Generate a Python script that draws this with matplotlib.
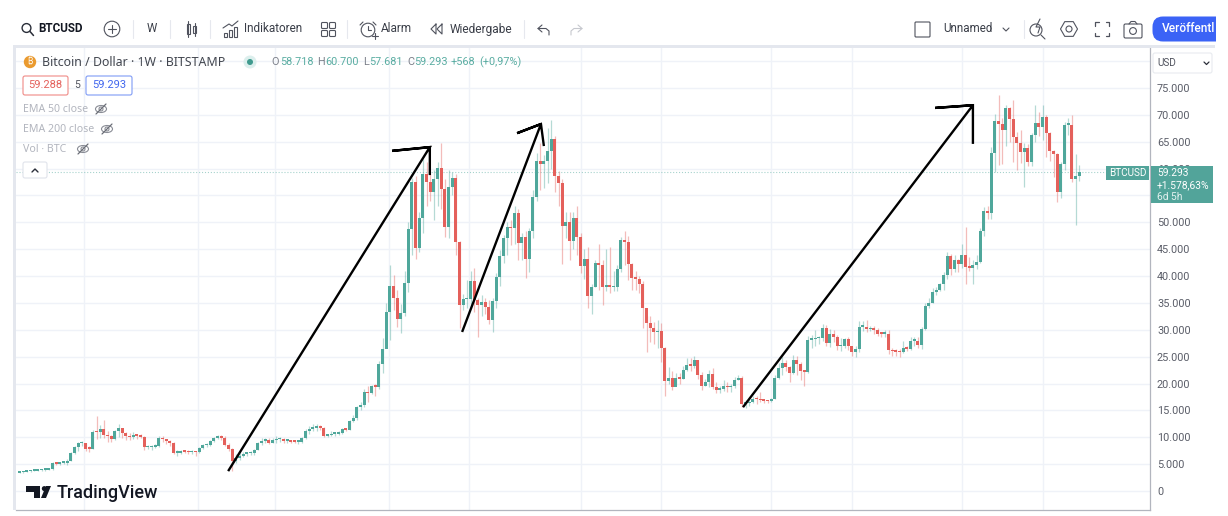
import numpy as np
import matplotlib
matplotlib.use("Agg")
import matplotlib.pyplot as plt
from matplotlib.patches import Circle, Rectangle, FancyBboxPatch, Polygon, Ellipse
from matplotlib.ticker import FuncFormatter

plt.rcParams['font.family'] = ['Roboto', 'DejaVu Sans']

W, H = 1228, 516

# weekly candles, in thousand USD
first_open = 3.4
closes = [
    3.5, 3.6, 3.7, 3.8, 3.8, 3.85, 3.95, 4.0, 4.05, 5.3,
    5.1, 5.2, 5.2, 5.6, 7.1, 8.1, 8.9, 8.9, 7.9, 7.8,
    11.0, 10.9, 11.6, 10.4, 10.2, 9.6, 11.2, 11.7, 10.8, 10.2,
    10.0, 10.4, 10.3, 10.1, 8.1, 8.1, 8.2, 8.3, 9.8, 9.6,
    9.3, 9.0, 7.1, 7.1, 7.4, 7.3, 7.2, 7.3, 7.2, 8.0,
    8.5, 8.6, 9.3, 9.9, 10.1, 9.9, 8.6, 7.9, 5.5, 6.1,
    6.6, 6.9, 7.0, 7.1, 7.7, 8.9, 9.3, 9.5, 8.9, 9.4,
    9.6, 9.6, 9.3, 9.3, 9.2, 9.1, 9.2, 9.9, 11.2, 11.6,
    11.8, 11.9, 11.8, 10.3, 10.4, 10.7, 10.7, 10.8, 11.5, 11.4,
    13.1, 13.6, 15.7, 16.0, 18.5, 18.2, 19.5, 19.4, 23.6, 26.4,
    33.3, 38.2, 35.9, 32.1, 33.2, 38.8, 48.7, 57.6, 45.3, 50.9,
    59.0, 57.5, 55.7, 58.1, 60.1, 56.3, 49.2, 56.6, 58.2, 46.4,
    34.7, 35.7, 35.8, 39.1, 35.5, 34.7, 35.2, 34.3, 31.8, 35.4,
    39.8, 43.8, 47.0, 49.2, 48.9, 51.8, 46.1, 47.2, 43.1, 48.3,
    54.7, 61.5, 60.9, 61.5, 63.2, 65.5, 58.6, 57.3, 49.3, 50.1,
    46.6, 50.8, 47.3, 41.9, 43.2, 36.3, 37.9, 42.4, 42.1, 37.9,
    38.3, 37.9, 38.0, 41.3, 46.8, 46.4, 42.2, 39.6, 39.5, 38.5,
    34.0, 31.3, 30.4, 29.5, 29.8, 26.6, 20.5, 21.1, 19.3, 21.0,
    20.9, 22.6, 23.4, 23.3, 24.3, 21.5, 19.6, 20.2, 21.8, 19.4,
    18.8, 18.9, 19.5, 19.3, 19.5, 20.7, 21.0, 16.2, 16.3, 16.5,
    17.2, 17.1, 16.9, 16.8, 16.7, 17.2, 21.0, 22.8, 23.8, 23.0,
    21.9, 24.3, 23.6, 22.4, 22.2, 28.1, 28.2, 28.4, 28.5, 30.3,
    27.6, 29.2, 28.6, 26.9, 27.0, 28.2, 26.9, 25.9, 26.4, 30.6,
    30.6, 30.1, 30.1, 30.0, 29.3, 29.2, 29.3, 26.2, 26.0, 25.9,
    25.8, 26.6, 26.5, 28.0, 28.0, 27.2, 30.1, 34.5, 35.0, 37.1,
    37.4, 38.5, 40.2, 43.8, 41.4, 43.0, 42.2, 43.9, 41.6, 41.5,
    42.1, 42.6, 48.3, 52.2, 51.8, 63.0, 68.9, 68.3, 67.1, 71.2,
    69.2, 65.8, 64.8, 63.1, 63.9, 61.3, 66.3, 68.4, 67.8, 69.7,
    66.6, 63.2, 62.7, 55.7, 60.9, 68.1, 68.2, 58.1, 58.7, 59.3,
]
highs = [
    3.6, 3.7, 3.9, 3.9, 3.9, 4.0, 4.1, 4.1, 4.2, 5.4,
    5.4, 5.4, 5.5, 5.9, 7.3, 8.3, 9.1, 9.3, 9.0, 8.4,
    11.4, 14.0, 12.3, 13.2, 11.2, 10.5, 11.4, 12.4, 11.8, 10.9,
    10.8, 10.9, 10.7, 10.6, 10.3, 8.6, 8.6, 8.8, 10.3, 10.2,
    9.6, 9.4, 9.2, 7.6, 7.7, 7.7, 7.6, 7.7, 7.5, 8.2,
    8.8, 9.0, 9.4, 10.1, 10.4, 10.4, 10.2, 8.9, 8.0, 6.9,
    7.0, 7.2, 7.3, 7.5, 7.8, 9.1, 9.9, 9.9, 9.8, 9.9,
    10.3, 10.0, 9.8, 9.6, 9.5, 9.4, 9.4, 10.1, 11.5, 12.1,
    12.4, 12.5, 12.2, 12.0, 10.7, 11.1, 11.0, 11.2, 11.7, 11.8,
    13.3, 14.1, 15.9, 16.6, 18.9, 19.5, 19.8, 19.9, 24.2, 28.4,
    35.0, 42.0, 40.2, 37.5, 34.8, 41.0, 50.0, 58.3, 58.6, 52.0,
    61.7, 61.3, 59.0, 59.8, 61.3, 64.8, 58.0, 59.8, 59.4, 59.0,
    46.5, 36.7, 39.3, 41.0, 41.5, 36.0, 36.5, 36.0, 35.6, 36.0,
    40.6, 44.9, 47.6, 50.0, 50.5, 53.0, 52.5, 48.0, 48.3, 49.0,
    56.0, 62.9, 64.8, 62.5, 67.5, 69.0, 66.0, 59.5, 58.0, 51.9,
    51.9, 52.0, 53.0, 48.0, 45.0, 45.5, 38.5, 42.9, 45.9, 43.0,
    45.0, 45.4, 41.0, 42.0, 47.3, 48.3, 47.5, 42.5, 41.0, 40.1,
    39.0, 32.5, 32.5, 31.5, 31.8, 31.2, 26.8, 23.0, 22.3, 22.0,
    22.0, 23.2, 24.8, 24.7, 25.1, 24.4, 22.2, 20.8, 22.5, 22.9,
    20.2, 19.6, 20.6, 20.2, 19.9, 21.2, 21.6, 21.4, 16.9, 17.0,
    17.6, 17.6, 18.5, 17.0, 16.9, 17.4, 21.6, 23.9, 25.0, 24.3,
    23.3, 25.3, 25.1, 24.0, 22.6, 28.8, 29.0, 30.0, 28.9, 31.1,
    30.9, 30.2, 30.0, 29.1, 28.5, 28.5, 28.7, 26.8, 27.0, 31.7,
    31.6, 31.8, 30.8, 30.7, 30.3, 29.6, 30.0, 29.9, 26.6, 26.4,
    26.4, 27.9, 27.0, 28.7, 28.6, 28.7, 30.6, 35.0, 35.9, 37.7,
    38.0, 38.8, 40.7, 44.5, 44.2, 43.9, 43.2, 46.0, 49.1, 43.5,
    43.0, 43.9, 48.9, 52.9, 53.0, 64.1, 70.2, 73.7, 69.5, 71.8,
    71.5, 72.7, 66.9, 67.2, 64.7, 64.5, 66.7, 71.8, 70.6, 71.8,
    70.0, 66.8, 63.5, 62.9, 61.2, 68.6, 69.4, 70.0, 62.8, 60.7,
]
lows = [
    3.3, 3.4, 3.5, 3.6, 3.65, 3.7, 3.75, 3.8, 3.9, 4.0,
    4.8, 4.9, 5.0, 4.9, 5.5, 6.8, 7.5, 8.4, 7.4, 7.3,
    7.8, 9.6, 9.8, 9.9, 9.2, 9.1, 9.4, 10.1, 9.9, 9.5,
    9.4, 9.7, 9.6, 9.8, 7.7, 7.8, 7.7, 8.0, 8.2, 9.1,
    8.8, 8.4, 6.9, 6.5, 6.9, 7.0, 6.9, 6.8, 6.6, 7.0,
    7.9, 8.2, 8.4, 9.1, 9.6, 9.5, 8.4, 7.5, 3.8, 5.2,
    5.7, 6.4, 6.5, 6.7, 6.7, 7.6, 8.6, 8.9, 8.7, 8.9,
    9.0, 9.1, 9.0, 9.0, 8.9, 8.9, 8.8, 9.0, 9.7, 10.7,
    11.2, 11.2, 11.4, 10.0, 10.0, 10.2, 10.3, 10.4, 10.6, 11.1,
    11.3, 12.9, 13.3, 15.0, 15.7, 16.6, 18.1, 17.6, 19.0, 21.9,
    28.0, 28.1, 33.6, 30.6, 29.4, 32.5, 37.0, 44.0, 43.2, 44.5,
    48.0, 53.0, 54.0, 50.5, 53.0, 52.4, 47.3, 47.0, 55.0, 44.0,
    30.3, 33.7, 34.0, 34.0, 33.4, 28.7, 32.5, 33.0, 31.0, 29.5,
    34.0, 38.2, 42.5, 44.0, 45.8, 46.0, 43.0, 43.0, 39.7, 40.8,
    47.0, 53.9, 56.0, 56.4, 57.4, 60.0, 55.7, 53.0, 42.2, 47.0,
    43.0, 45.0, 44.0, 40.6, 39.5, 34.1, 32.9, 37.9, 37.5, 34.6,
    37.2, 36.8, 37.3, 37.3, 40.8, 42.0, 39.3, 37.5, 37.5, 36.8,
    30.3, 25.8, 27.8, 27.3, 26.7, 24.0, 17.7, 20.0, 18.8, 19.7,
    20.0, 20.8, 22.4, 22.3, 22.8, 20.9, 18.8, 19.5, 19.3, 19.0,
    18.2, 18.3, 18.6, 18.5, 18.5, 19.2, 20.6, 15.6, 15.5, 15.9,
    16.3, 16.2, 16.6, 16.4, 16.4, 16.5, 17.1, 20.8, 21.5, 22.4,
    20.3, 21.8, 21.6, 20.7, 19.6, 22.0, 26.7, 27.0, 27.3, 28.0,
    27.0, 26.8, 27.8, 26.3, 26.0, 26.7, 26.3, 25.2, 24.9, 25.8,
    29.8, 29.5, 29.7, 29.3, 28.9, 28.7, 28.7, 25.5, 25.2, 25.2,
    25.0, 25.6, 26.0, 26.3, 26.9, 26.6, 26.4, 30.0, 34.0, 34.9,
    36.5, 37.2, 37.4, 39.5, 40.2, 40.8, 40.8, 41.5, 38.5, 41.0,
    38.6, 41.4, 42.5, 47.5, 50.6, 50.7, 59.4, 60.7, 60.9, 64.3,
    65.0, 61.3, 59.7, 61.0, 56.6, 60.4, 60.5, 65.0, 66.0, 65.3,
    62.2, 61.5, 58.5, 53.7, 54.5, 59.7, 66.3, 57.5, 49.5, 57.7,
]

price_ticks = [0, 5, 10, 15, 20, 25, 30, 35, 40, 45, 50, 55, 60, 65, 70, 75, 80]
time_grid = [17.6, 48.7, 69.7, 100.8, 122.6, 153.1, 175.0, 205.0, 227.0, 257.0, 279.0]
last_price = 59.293

# hand drawn arrows, (week, price)
arrows = [
    [(56.9, 3.7), (111.9, 64.0), (101.6, 63.3), (111.9, 64.0), (111.9, 58.8)],
    [(120.7, 29.6), (142.2, 68.3), (135.7, 66.6), (142.2, 68.3), (143.0, 64.2)],
    [(197.3, 15.6), (260.0, 71.8), (249.7, 71.3), (260.0, 71.8), (260.0, 64.6)],
]

UP = '#4fa79b'
DOWN = '#e4605b'
GRID = '#eff2f8'
BORDER = '#e4e7ee'
TXT = '#3a3e48'
TEAL_TXT = '#5aada2'

fig = plt.figure(figsize=(W / 100, H / 100), dpi=100, facecolor='white')

# chart area, px 16..1150 / 48..510
ax = fig.add_axes([16 / W, (H - 510) / H, (1150 - 16) / W, (510 - 48) / H])
px_per_week = 3.667
px_per_k = 5.373
week0_px = 19.5
ax.set_xlim((16 - week0_px) / px_per_week, (1150 - week0_px) / px_per_week)
ax.set_ylim((491 - 510) / px_per_k, (491 - 48) / px_per_k)

weeks = np.arange(len(closes))
closes_a = np.array(closes)
opens_a = np.concatenate([[first_open], closes_a[:-1]])
colors = [UP if c >= o else DOWN for o, c in zip(opens_a, closes_a)]

ax.vlines(weeks, lows, highs, colors=colors, linewidth=0.9, alpha=0.42, zorder=2)
body = np.abs(closes_a - opens_a)
body = np.where(body < 0.3, 0.3, body)
ax.bar(weeks, body, bottom=np.minimum(opens_a, closes_a), width=0.82, color=colors, linewidth=0, zorder=3)

ax.axhline(last_price, color=UP, linestyle=':', linewidth=0.8, alpha=0.5, zorder=1)

for pts in arrows:
    xs, ys = zip(*pts)
    ax.plot(xs, ys, color='black', linewidth=1.7, solid_joinstyle='miter', solid_capstyle='butt', zorder=5)

ax.set_xticks(time_grid)
ax.set_yticks(price_ticks)
ax.grid(True, color=GRID, linewidth=1.0, zorder=0)
ax.set_axisbelow(True)
ax.xaxis.set_ticklabels([])
ax.yaxis.tick_right()
ax.yaxis.set_major_formatter(FuncFormatter(
    lambda v, p: '' if v >= 80 else ('0' if v == 0 else f'{v * 1000:,.0f}'.replace(',', '.'))))
ax.tick_params(axis='both', length=0)
ax.tick_params(axis='y', labelsize=7.8, labelcolor='#5a5d68', pad=5)
for side in ['top', 'left']:
    ax.spines[side].set_visible(False)
ax.spines['right'].set_color('#b2b5be')
ax.spines['right'].set_linewidth(0.9)
ax.spines['bottom'].set_color('#b2b5be')
ax.spines['bottom'].set_linewidth(0.9)

# everything else is interface chrome, drawn in pixel coordinates
ov = fig.add_axes([0, 0, 1, 1], zorder=10)
ov.set_xlim(0, W)
ov.set_ylim(H, 0)
ov.axis('off')
ov.patch.set_alpha(0)


def label(x, y, s, size=8.2, color=TXT, ha='left', weight='normal', family=None):
    ov.text(x, y, s, fontsize=size, color=color, ha=ha, va='center', fontweight=weight, family=family)


def line(xs, ys, color='#50535e', lw=0.8):
    ov.plot(xs, ys, color=color, linewidth=lw, solid_capstyle='round')


def rect(x, y, w, h, ec='#50535e', fc='none', lw=0.8):
    ov.add_patch(Rectangle((x, y), w, h, edgecolor=ec, facecolor=fc, linewidth=lw))


def rbox(x, y, w, h, ec, fc='white', lw=0.8, r=2):
    ov.add_patch(FancyBboxPatch((x + r, y + r), w - 2 * r, h - 2 * r, boxstyle=f'round,pad={r}',
                                edgecolor=ec, facecolor=fc, linewidth=lw))


def eye(x, y):
    ov.add_patch(Ellipse((x, y), 11, 7, edgecolor='#8a8d96', facecolor='none', linewidth=0.8))
    ov.add_patch(Circle((x, y), 2, edgecolor='#8a8d96', facecolor='none', linewidth=0.8))
    line([x - 5, x + 5], [y + 5, y - 5], color='#6a6d76', lw=0.9)


ICON = '#50535e'

# window borders
rect(13, 45, 1215 - 13, 3, ec='none', fc=BORDER)
rect(13, 45, 3, 510 - 45, ec='none', fc=BORDER)
rect(1216, 0, W - 1216, H, ec='none', fc='white')

# toolbar left
ov.add_patch(Circle((26.5, 28), 4.4, edgecolor='#2a2e39', facecolor='none', linewidth=1.0))
line([30, 33.5], [31.5, 35.5], color='#2a2e39', lw=1.1)
label(38, 29, 'BTCUSD', size=8.4, color='#131722', weight='bold')
ov.add_patch(Circle((112, 29), 7.8, edgecolor=ICON, facecolor='none', linewidth=0.8))
line([108, 116], [29, 29])
line([112, 112], [25, 33])
for sx in [133, 170, 210, 347, 524, 1024]:
    line([sx, sx], [20, 38], color='#e6e8ee', lw=0.8)
label(152, 29, 'W', size=8.4, ha='center')
rect(186.5, 24, 3.4, 10)
line([188.2, 188.2], [21, 37])
rect(193.2, 26, 3, 7)
line([194.7, 194.7], [23, 36])
for bx, bh in [(224, 4), (229, 7), (234, 10)]:
    rect(bx, 37 - bh, 3.4, bh)
line([223, 229, 232, 238], [28, 24, 26, 21])
label(244, 29, 'Indikatoren', size=8.5)
for qx in [321.5, 329.5]:
    for qy in [22.5, 30.5]:
        rbox(qx, qy, 6, 6, ICON, fc='none', lw=0.8, r=1)
ov.add_patch(Circle((368, 30), 6.8, edgecolor=ICON, facecolor='none', linewidth=0.8))
line([368, 368, 371], [26, 30, 30])
line([360, 363], [25, 22])
line([373, 376], [22, 25])
line([372, 378], [36, 36])
line([375, 375], [33, 39])
label(381, 29, 'Alarm', size=8.5)
line([436, 431, 436, 436], [24, 29, 34, 24])
line([442, 437, 442, 442], [24, 29, 34, 24])
label(450, 29, 'Wiedergabe', size=8.6)
line([542, 538, 542], [25, 28.5, 32], color='#50535e')
line([538, 546, 549, 549], [28.5, 28.5, 31, 35], color='#50535e')
line([578, 582, 578], [25, 28.5, 32], color='#c6c8ce')
line([582, 574, 571, 571], [28.5, 28.5, 31, 35], color='#c6c8ce')

# toolbar right
rbox(915, 22, 15, 15, ICON, fc='none', lw=0.8, r=1)
label(943, 29, 'Unnamed', size=8.4)
line([1003, 1006, 1009], [28, 31, 28], color='#50535e')
ov.add_patch(Circle((1036, 30), 6, edgecolor=ICON, facecolor='none', linewidth=0.8))
line([1041, 1045], [35, 39])
line([1040, 1036, 1040, 1038], [19, 27, 27, 33])
hex_a = np.deg2rad(np.arange(0, 360, 60))
ov.add_patch(Polygon(np.c_[1069 + 8.5 * np.cos(hex_a), 29 + 8.5 * np.sin(hex_a)], closed=True,
                     edgecolor=ICON, facecolor='none', linewidth=0.8))
ov.add_patch(Circle((1069, 29), 3, edgecolor=ICON, facecolor='none', linewidth=0.8))
for dx in [-1, 1]:
    for dy in [-1, 1]:
        cx, cy = 1102 + dx * 7, 29 + dy * 7
        line([cx - dx * 3.5, cx, cx], [cy, cy, cy - dy * 3.5], lw=0.9)
rbox(1124, 24, 18, 14, ICON, fc='none', lw=0.8, r=1.5)
ov.add_patch(Circle((1133, 31), 3.4, edgecolor=ICON, facecolor='none', linewidth=0.8))
line([1129, 1131, 1135, 1137], [24, 21.5, 21.5, 24])
btn = FancyBboxPatch((1163, 27), 70, 4, boxstyle='round,pad=10.5', edgecolor='none', facecolor='#3b63f6')
ov.add_patch(btn)
rect(1216, 0, W - 1216, 60, ec='none', fc='white')
label(1162, 29, 'Veröffentl', size=8.6, color='white', weight='medium')

# legend block
ov.add_patch(Circle((30, 62), 6.2, edgecolor='none', facecolor='#ea9a2f'))
ov.text(30, 62, '₿', fontsize=6, color='white', ha='center', va='center',
        family=['Inter', 'Noto Sans', 'Open Sans', 'Liberation Sans', 'DejaVu Sans'])
label(42, 62, 'Bitcoin / Dollar · 1W · BITSTAMP', size=8.9, color='#42464f', family='Noto Sans')
ov.add_patch(Circle((250, 62), 6.5, edgecolor='none', facecolor='#dcefed'))
ov.add_patch(Circle((250, 62), 3, edgecolor='none', facecolor='#3f9a8e'))
for lx, s in [(271, 'O'), (317, 'H'), (363, 'L'), (407, 'C')]:
    label(lx, 62, s, size=7.8, color='#7c808a')
for vx, s in [(280, '58.718'), (325, '60.700'), (369, '57.681'), (414, '59.293'), (451, '+568'), (479, '(+0,97%)')]:
    label(vx, 62, s, size=7.8, color=TEAL_TXT)

rbox(23, 76, 45, 19, '#ef8a86')
label(45.5, 85.5, '59.288', size=8, color='#e4605b', ha='center')
label(77, 85.5, '5', size=7.5, color='#50535e', ha='center')
rbox(86, 76, 46, 19, '#7f9bf5')
label(109, 85.5, '59.293', size=8, color='#4166ee', ha='center')

label(23, 109, 'EMA 50 close', size=7.6, color='#b2b5be', family='Noto Sans')
eye(101, 109)
label(23, 129, 'EMA 200 close', size=7.6, color='#b2b5be', family='Noto Sans')
eye(107, 129)
label(23, 149, 'Vol · BTC', size=7.6, color='#b2b5be', family='Noto Sans')
eye(83, 149)
rbox(23, 162, 24, 16, '#e0e3eb')
line([32, 35, 38], [172, 169, 172], color='#2a2e39', lw=1.0)

# price scale widgets
rbox(1153, 53, 59, 20, '#e8eaef')
label(1157, 63, 'USD', size=7.2, color='#50535e')
line([1204, 1206.5, 1209], [62, 64.5, 62], color='#2a2e39', lw=0.9)
rect(1106, 166, 43, 14, ec='none', fc='#52a49a')
label(1109, 173, 'BTCUSD', size=7.2, color='white')
rect(1151, 166, 62, 37, ec='none', fc='#52a49a')
label(1157, 172.5, '59.293', size=7.4, color='white')
label(1157, 185, '+1.578,63%', size=7.4, color='white')
label(1157, 197, '6d 5h', size=7.4, color='#e4f2f0')

# watermark
ov.add_patch(Polygon([(26, 486), (40, 486), (40, 498), (34, 498), (34, 491.5), (26, 491.5)], closed=True,
                     edgecolor='none', facecolor='#131722'))
ov.add_patch(Circle((44.3, 488.6), 2.5, edgecolor='none', facecolor='#131722'))
ov.add_patch(Polygon([(46, 498), (51, 486), (46, 486), (41, 498)], closed=True, edgecolor='none', facecolor='#131722'))
label(57, 492.5, 'TradingView', size=13, color='#131722', weight='medium')

fig.savefig('out.png', dpi=100, facecolor='white')
